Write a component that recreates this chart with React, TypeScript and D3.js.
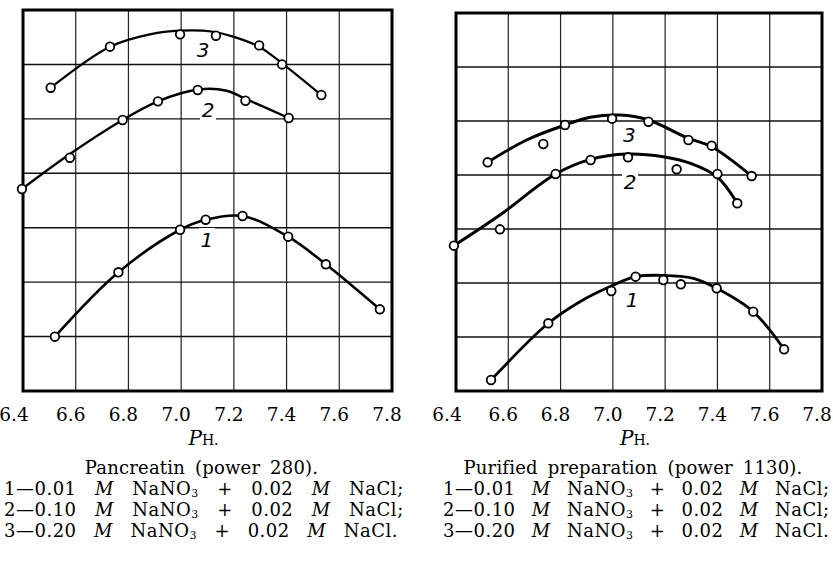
import React from "react";
import * as d3 from "d3";

// pH ticks along the bottom and the horizontal grid levels (arbitrary units, 0..7)
const phTicks = [6.4, 6.6, 6.8, 7.0, 7.2, 7.4, 7.6, 7.8];
const levels = [1, 2, 3, 4, 5, 6];

// Pancreatin (power 280) – measured points [pH, value]
const pancPts1 = [[6.521, 0.998], [6.762, 2.181], [6.996, 2.963], [7.093, 3.147], [7.233, 3.215], [7.406, 2.835], [7.549, 2.328], [7.754, 1.501]];
const pancPts2 = [[6.396, 3.711], [6.578, 4.286], [6.778, 4.979], [6.912, 5.322], [7.063, 5.53], [7.244, 5.333], [7.408, 5.016]];
const pancPts3 = [[6.505, 5.572], [6.73, 6.326], [6.996, 6.553], [7.132, 6.527], [7.296, 6.35], [7.383, 6.0], [7.532, 5.438]];

// Pancreatin – hand-drawn fitted curves
const pancFit1 = [[6.521, 0.998], [6.762, 2.181], [6.996, 2.963], [7.093, 3.147], [7.233, 3.215], [7.406, 2.835], [7.549, 2.328], [7.754, 1.501]];
const pancFit2 = [[6.396, 3.711], [6.578, 4.354], [6.778, 4.979], [6.912, 5.322], [7.071, 5.543], [7.173, 5.517], [7.243, 5.37], [7.408, 5.016]];
const pancFit3 = [[6.505, 5.572], [6.73, 6.326], [6.882, 6.553], [6.996, 6.62], [7.122, 6.601], [7.198, 6.509], [7.296, 6.326], [7.383, 6.021], [7.532, 5.438]];

// Purified preparation (power 1130) – measured points
const purPts1 = [[6.534, 0.204], [6.753, 1.254], [6.994, 1.852], [7.087, 2.117], [7.193, 2.056], [7.26, 1.976], [7.397, 1.902], [7.537, 1.469], [7.655, 0.772]];
const purPts2 = [[6.392, 2.691], [6.568, 2.994], [6.781, 4.019], [6.915, 4.278], [7.058, 4.328], [7.244, 4.106], [7.4, 4.019], [7.476, 3.476]];
const purPts3 = [[6.521, 4.235], [6.734, 4.574], [6.817, 4.926], [6.997, 5.043], [7.136, 4.987], [7.289, 4.648], [7.378, 4.543], [7.531, 3.981]];

// Purified preparation – fitted curves
const purFit1 = [[6.534, 0.204], [6.753, 1.254], [6.874, 1.654], [6.994, 1.944], [7.087, 2.117], [7.193, 2.142], [7.308, 2.086], [7.397, 1.902], [7.537, 1.469], [7.655, 0.772]];
const purFit2 = [[6.392, 2.691], [6.568, 3.259], [6.781, 4.019], [6.915, 4.29], [7.053, 4.389], [7.193, 4.339], [7.3, 4.21], [7.4, 3.96], [7.476, 3.476]];
const purFit3 = [[6.521, 4.235], [6.67, 4.648], [6.817, 4.926], [6.913, 5.068], [7.027, 5.111], [7.136, 5.019], [7.289, 4.679], [7.378, 4.524], [7.531, 3.981]];

// curve number labels [pH, value]
const curveNames = ["1", "2", "3"];
const pancLabelPos = [[7.098, 2.774], [7.102, 5.163], [7.083, 6.265]];
const purLabelPos = [[7.074, 1.685], [7.066, 3.876], [7.063, 4.741]];

const legendRows = [
  ["1", "0.01"],
  ["2", "0.10"],
  ["3", "0.20"],
];

const serif = "DejaVu Serif";

function Panel({ box, fits, pts, labelPos, title, legendX, wordGap, strokeW }) {
  const x = d3.scaleLinear().domain([6.4, 7.8]).range([box.x0, box.x1]);
  const y = d3.scaleLinear().domain([0, 7]).range([box.y1, box.y0]);
  const line = d3.line<number[]>()
    .x(d => x(d[0]))
    .y(d => y(d[1]))
    .curve(d3.curveCatmullRom.alpha(0.5));
  const cx = (box.x0 + box.x1) / 2;

  return (
    <g>
      {phTicks.slice(1, -1).map(t => (
        <line key={"v" + t} x1={x(t)} x2={x(t)} y1={box.y0} y2={box.y1} stroke="#222" strokeWidth={1.2} />
      ))}
      {levels.map(l => (
        <line key={"h" + l} x1={box.x0} x2={box.x1} y1={y(l)} y2={y(l)} stroke="#111" strokeWidth={1.4} />
      ))}
      {labelPos.map((p, i) => (
        <rect key={"lb" + i} x={x(p[0]) - 8} y={y(p[1]) - 12} width={16} height={24} fill="white" />
      ))}
      <rect x={box.x0} y={box.y0} width={box.x1 - box.x0} height={box.y1 - box.y0} fill="none" stroke="#000" strokeWidth={3} />
      {fits.map((f, i) => (
        <path key={"c" + i} d={line(f)} fill="none" stroke="#000" strokeWidth={strokeW[i]} />
      ))}
      {pts.map((s, i) => s.map((p, j) => (
        <circle key={"p" + i + "-" + j} cx={x(p[0])} cy={y(p[1])} r={4.3} fill="white" stroke="#000" strokeWidth={1.8} />
      )))}
      {labelPos.map((p, i) => (
        <text key={"ln" + i} x={x(p[0])} y={y(p[1]) + 7} textAnchor="middle" fontFamily="DejaVu Sans" fontStyle="italic" fontSize={20} fontWeight={300}>
          {curveNames[i]}
        </text>
      ))}
      {phTicks.map((t, i) => (
        <text key={"t" + t} x={x(t)} dx={i === 0 ? -9 : -5} y={421} textAnchor="middle" fontFamily={serif} fontSize={18.5}>
          {t.toFixed(1)}
        </text>
      ))}
      <text x={cx - 4} y={445} textAnchor="middle" fontFamily={serif} fontSize={20}>
        <tspan fontStyle="italic">P</tspan>
        <tspan fontSize={14}>H.</tspan>
      </text>
      <text x={cx - 6} y={474} textAnchor="middle" fontFamily={serif} fontSize={18} wordSpacing={4} letterSpacing={0.2}>
        {title}
      </text>
      {legendRows.map((r, i) => (
        <text key={"lg" + i} x={legendX} y={495 + i * 21} fontFamily={serif} fontSize={18} letterSpacing={0.5} wordSpacing={wordGap[i]}>
          {r[0]}—{r[1]} <tspan fontStyle="italic">M</tspan> NaNO<tspan fontSize={11} dy={2}>3</tspan><tspan dy={-2}> + 0.02 </tspan><tspan fontStyle="italic">M</tspan> NaCl{i < 2 ? ";" : "."}
        </text>
      ))}
    </g>
  );
}

export default function App() {
  return (
    <svg width={833} height={565} style={{ position: "absolute", left: 0, top: 0, background: "white" }}>
      <rect width={833} height={565} fill="white" />
      <Panel
        box={{ x0: 23, x1: 392, y0: 10, y1: 391 }}
        fits={[pancFit1, pancFit2, pancFit3]}
        pts={[pancPts1, pancPts2, pancPts3]}
        labelPos={pancLabelPos}
        title="Pancreatin (power 280)."
        legendX={4}
        wordGap={[12.2, 12.2, 11.3]}
        strokeW={[2.6, 2.4, 2.2]}
      />
      <Panel
        box={{ x0: 456, x1: 822, y0: 13, y1: 391 }}
        fits={[purFit1, purFit2, purFit3]}
        pts={[purPts1, purPts2, purPts3]}
        labelPos={purLabelPos}
        title="Purified preparation (power 1130)."
        legendX={443}
        wordGap={[10, 10, 10]}
        strokeW={[2.8, 3, 3]}
      />
    </svg>
  );
}
